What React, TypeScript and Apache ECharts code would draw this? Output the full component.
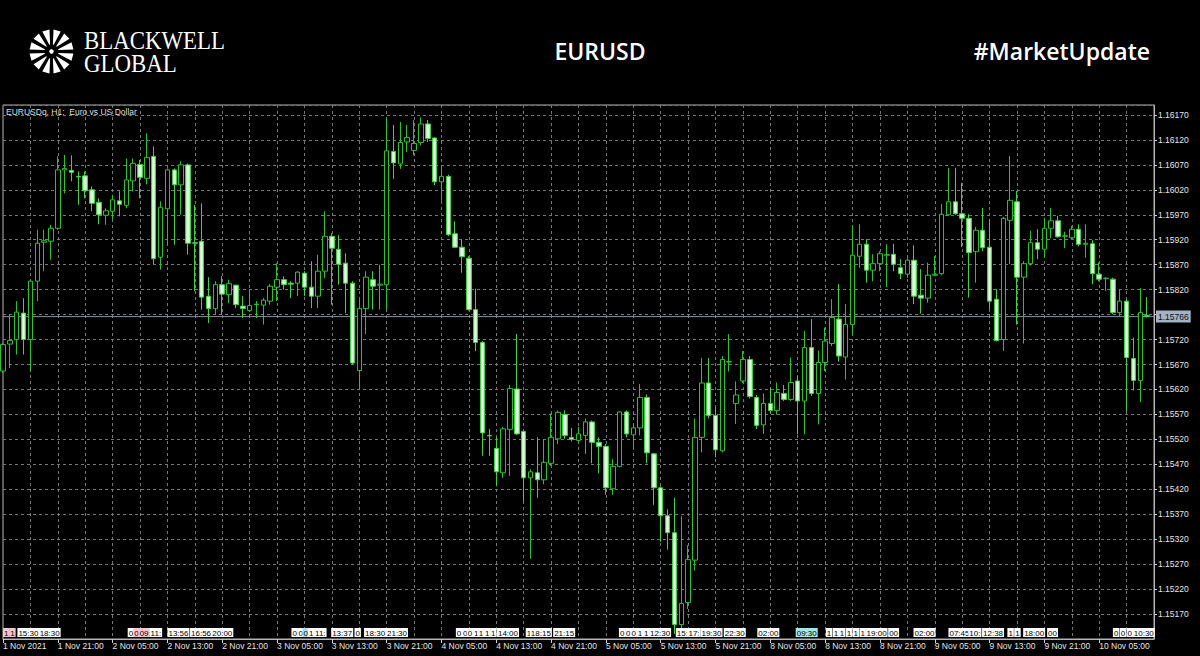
import React, { useEffect, useRef } from 'react';
import * as echarts from 'echarts';

// ---- Data ----
const sessions = [
  { day: '1 Nov', from: 13, to: 23 },
  { day: '2 Nov', from: 0, to: 23 },
  { day: '3 Nov', from: 0, to: 23 },
  { day: '4 Nov', from: 0, to: 23 },
  { day: '5 Nov', from: 0, to: 23 },
  { day: '8 Nov', from: 0, to: 23 },
  { day: '9 Nov', from: 0, to: 23 },
  { day: '10 Nov', from: 0, to: 13 },
];
const firstLabel = '1 Nov 2021';

const opens = [
  1.15657,1.15711,1.15720,1.15773,1.15720,1.15837,1.15915,1.15917,1.15943,1.16060,
  1.16059,1.16047,1.16048,1.16020,1.15995,1.15969,1.15977,1.15998,1.15989,1.16038,
  1.16071,1.16043,1.16087,1.15885,1.15982,1.16060,1.16030,1.16070,1.15914,1.15917,
  1.15807,1.15782,1.15830,1.15810,1.15829,1.15787,1.15778,1.15790,1.15789,1.15797,
  1.15825,1.15840,1.15833,1.15833,1.15853,1.15825,1.15807,1.15857,1.15927,1.15901,
  1.15873,1.15833,1.15658,1.15782,1.15840,1.15829,1.15830,1.16097,1.16072,1.16116,
  1.16099,1.16115,1.16152,1.16124,1.16036,1.16047,1.15932,1.15905,1.15883,1.15780,
  1.15714,1.15528,1.15502,1.15453,1.15540,1.15621,1.15536,1.15443,1.15453,1.15439,
  1.15472,1.15521,1.15570,1.15524,1.15518,1.15528,1.15555,1.15514,1.15506,1.15421,
  1.15466,1.15575,1.15529,1.15543,1.15604,1.15491,1.15423,1.15367,1.15333,1.15149,
  1.15193,1.15278,1.15524,1.15633,1.15568,1.15497,1.15675,1.15592,1.15637,1.15680,
  1.15604,1.15549,1.15592,1.15578,1.15612,1.15600,1.15637,1.15597,1.15704,1.15612,
  1.15674,1.15712,1.15761,1.15685,1.15750,1.15887,1.15911,1.15859,1.15872,1.15889,
  1.15891,1.15864,1.15851,1.15879,1.15809,1.15803,1.15849,1.15852,1.15970,1.15996,
  1.15972,1.15963,1.15896,1.15939,1.15905,1.15801,1.15720,1.15959,1.15996,1.15845,
  1.15872,1.15914,1.15901,1.15943,1.15958,1.15927,1.15924,1.15941,1.15911,1.15912,
  1.15851,1.15842,1.15841,1.15774,1.15797,1.15682,1.15638,1.15768,
];
const closes = [
  1.15710,1.15718,1.15775,1.15720,1.15837,1.15913,1.15918,1.15943,1.16060,1.16063,
  1.16055,1.16046,1.16018,1.15993,1.15970,1.15978,1.16000,1.15991,1.16040,1.16073,
  1.16045,1.16085,1.15882,1.15985,1.16060,1.16030,1.16070,1.15913,1.15913,1.15805,
  1.15782,1.15830,1.15811,1.15832,1.15790,1.15782,1.15788,1.15791,1.15799,1.15827,
  1.15840,1.15830,1.15831,1.15855,1.15825,1.15807,1.15857,1.15927,1.15903,1.15871,
  1.15833,1.15673,1.15782,1.15845,1.15827,1.15831,1.16098,1.16074,1.16115,1.16125,
  1.16113,1.16152,1.16123,1.16036,1.16047,1.15930,1.15905,1.15886,1.15780,1.15714,
  1.15533,1.15527,1.15455,1.15541,1.15622,1.15531,1.15443,1.15455,1.15439,1.15474,
  1.15524,1.15574,1.15528,1.15520,1.15531,1.15555,1.15514,1.15506,1.15423,1.15466,
  1.15575,1.15531,1.15543,1.15604,1.15493,1.15423,1.15367,1.15333,1.15149,1.15191,
  1.15279,1.15524,1.15633,1.15568,1.15499,1.15680,1.15676,1.15609,1.15680,1.15606,
  1.15548,1.15592,1.15578,1.15614,1.15600,1.15634,1.15597,1.15704,1.15612,1.15674,
  1.15717,1.15764,1.15687,1.15750,1.15889,1.15911,1.15859,1.15872,1.15892,1.15890,
  1.15871,1.15852,1.15879,1.15807,1.15803,1.15849,1.15851,1.15971,1.15996,1.15972,
  1.15963,1.15894,1.15939,1.15904,1.15797,1.15718,1.15963,1.15999,1.15845,1.15872,
  1.15914,1.15901,1.15943,1.15958,1.15926,1.15928,1.15941,1.15911,1.15913,1.15852,
  1.15841,1.15843,1.15774,1.15797,1.15684,1.15638,1.15774,1.15766,
];
const lows = [
  1.15653,1.15663,1.15690,1.15690,1.15657,1.15797,1.15857,1.15880,1.15940,1.16013,
  1.16037,1.15990,1.16003,1.15977,1.15951,1.15950,1.15960,1.15967,1.15983,1.16017,
  1.16003,1.16031,1.15871,1.15860,1.15910,1.15910,1.15970,1.15890,1.15817,1.15780,
  1.15753,1.15770,1.15770,1.15793,1.15783,1.15763,1.15777,1.15763,1.15750,1.15790,
  1.15797,1.15820,1.15803,1.15807,1.15807,1.15783,1.15783,1.15843,1.15790,1.15830,
  1.15773,1.15670,1.15620,1.15731,1.15780,1.15780,1.15780,1.16042,1.16062,1.16096,
  1.16089,1.16109,1.16116,1.16029,1.15998,1.15927,1.15903,1.15854,1.15778,1.15697,
  1.15487,1.15487,1.15426,1.15443,1.15447,1.15529,1.15396,1.15281,1.15403,1.15430,
  1.15467,1.15511,1.15521,1.15516,1.15514,1.15491,1.15472,1.15452,1.15409,1.15409,
  1.15464,1.15524,1.15502,1.15528,1.15472,1.15389,1.15315,1.15299,1.15130,1.15132,
  1.15180,1.15257,1.15494,1.15562,1.15484,1.15494,1.15656,1.15551,1.15633,1.15602,
  1.15541,1.15531,1.15572,1.15570,1.15597,1.15597,1.15530,1.15530,1.15607,1.15550,
  1.15657,1.15707,1.15676,1.15640,1.15730,1.15864,1.15834,1.15837,1.15857,1.15825,
  1.15857,1.15841,1.15844,1.15791,1.15772,1.15794,1.15847,1.15849,1.15968,1.15970,
  1.15905,1.15804,1.15834,1.15897,1.15781,1.15716,1.15697,1.15871,1.15750,1.15712,
  1.15868,1.15881,1.15884,1.15923,1.15924,1.15903,1.15921,1.15907,1.15884,1.15831,
  1.15837,1.15817,1.15771,1.15767,1.15577,1.15618,1.15595,1.15764,
];
const highs = [
  1.15713,1.15770,1.15797,1.15803,1.15838,1.15940,1.15940,1.15950,1.16087,1.16090,
  1.16089,1.16057,1.16057,1.16027,1.16003,1.15983,1.16010,1.16017,1.16083,1.16083,
  1.16080,1.16133,1.16107,1.15997,1.16063,1.16063,1.16077,1.16073,1.15990,1.15993,
  1.15845,1.15837,1.15847,1.15840,1.15830,1.15807,1.15820,1.15797,1.15803,1.15831,
  1.15873,1.15847,1.15837,1.15857,1.15857,1.15877,1.15890,1.15977,1.15933,1.15929,
  1.15893,1.15837,1.15800,1.15857,1.15857,1.15870,1.16164,1.16150,1.16156,1.16150,
  1.16160,1.16165,1.16160,1.16125,1.16069,1.16050,1.15957,1.15920,1.15887,1.15822,
  1.15717,1.15541,1.15524,1.15545,1.15629,1.15731,1.15538,1.15460,1.15524,1.15521,
  1.15572,1.15578,1.15578,1.15543,1.15545,1.15562,1.15558,1.15524,1.15511,1.15480,
  1.15576,1.15578,1.15551,1.15631,1.15610,1.15493,1.15426,1.15380,1.15403,1.15366,
  1.15308,1.15562,1.15683,1.15683,1.15585,1.15687,1.15731,1.15636,1.15697,1.15687,
  1.15609,1.15612,1.15622,1.15634,1.15629,1.15684,1.15647,1.15737,1.15761,1.15698,
  1.15744,1.15801,1.15831,1.15791,1.15948,1.15951,1.15921,1.15891,1.15897,1.15911,
  1.15912,1.15881,1.15883,1.15909,1.15861,1.15874,1.15887,1.15992,1.16064,1.16064,
  1.16034,1.15971,1.15946,1.15984,1.15961,1.15821,1.15966,1.16088,1.16018,1.15877,
  1.15938,1.15941,1.15964,1.15984,1.15968,1.15936,1.15948,1.15951,1.15951,1.15919,
  1.15874,1.15845,1.15844,1.15821,1.15801,1.15724,1.15823,1.15805,
];

// y-axis tick range
const yMin = 1.1512;
const yMax = 1.1619;
const yStep = 0.0005;

// calendar event markers (bar position, text, kind)
const eventPos = [
  0, 0.9, 2.1, 5.2,
  18.2, 19, 19.8, 21.4, 24, 27.3, 30.4,
  42.1, 43, 43.7, 44.5, 45.4, 47.9, 51.3, 52.7, 55.9,
  66.1, 67, 67.7, 68.6, 69.3, 70.2, 71.1, 72.1, 76.3, 76.9, 80.3,
  89.9, 90.8, 91.6, 92.5, 93.4, 94.3, 98.2, 99.9, 101.8, 105.2, 110.1,
  115.7, 120.1, 121.1, 122, 123, 124, 125, 125.9, 129.2, 132.9,
  138, 140.9, 142.9, 146.6, 147.6, 148.9, 152.4,
  162, 163, 164, 164.9,
];
const eventText = [
  '1', '1', '15:30', '18:30',
  '0', '0', '09:', '11:', '13:56', '16:56', '20:00',
  '0', '0', '0', '1', '11:', '13:37', '0', '18:30', '21:30',
  '0', '0', '0', '1', '1', '1', '1', '14:00', '1', '18:15', '21:15',
  '0', '0', '0', '1', '1', '12:30', '15:', '17:', '19:30', '22:30', '02:00',
  '09:30', '1', '1', '1', '1', '1', '1', '19:00', '00', '02:00',
  '07:45', '10:', '12:38', '1', '1', '18:00', '00',
  '0', '0', '0', '10:30',
];
const eventKind = [
  'p', 'p', 'w', 'w',
  'w', 'p', 'p', 'w', 'w', 'w', 'w',
  'w', 'w', 'c', 'w', 'w', 'w', 'w', 'w', 'w',
  'w', 'w', 'w', 'w', 'w', 'w', 'w', 'w', 'w', 'w', 'w',
  'w', 'w', 'w', 'w', 'w', 'w', 'w', 'w', 'w', 'w', 'w',
  'c', 'w', 'w', 'w', 'w', 'w', 'w', 'w', 'w', 'w',
  'w', 'w', 'w', 'w', 'w', 'w', 'w',
  'w', 'w', 'w', 'w',
];

const categories: string[] = [];
sessions.forEach((s) => {
  for (let h = s.from; h <= s.to; h++) {
    categories.push(`${s.day} ${String(h).padStart(2, '0')}:00`);
  }
});

const lastClose = closes[closes.length - 1];

function logoPolygons(cx: number, cy: number) {
  const items: any[] = [];
  const n = 12;
  const r1 = 7;
  const r2 = 22;
  for (let k = 0; k < n; k++) {
    const a = (k * 2 * Math.PI) / n + Math.PI / 12;
    const wIn = 0.06;
    const wOut = 0.17;
    const pts = [
      [cx + r1 * Math.cos(a - wIn), cy + r1 * Math.sin(a - wIn)],
      [cx + r2 * Math.cos(a - wOut), cy + r2 * Math.sin(a - wOut)],
      [cx + r2 * Math.cos(a + wOut), cy + r2 * Math.sin(a + wOut)],
      [cx + r1 * Math.cos(a + wIn), cy + r1 * Math.sin(a + wIn)],
    ];
    items.push({ type: 'polygon', shape: { points: pts }, style: { fill: '#ffffff' }, silent: true });
  }
  items.push({ type: 'circle', shape: { cx, cy, r: 2.2 }, style: { fill: '#ffffff' }, silent: true });
  return items;
}

export default function App() {
  const ref = useRef<HTMLDivElement>(null);

  useEffect(() => {
    if (!ref.current) return;
    const chart = echarts.init(ref.current, undefined, { renderer: 'svg' });

    const candleData = opens.map((o, i) => [o, closes[i], lows[i], highs[i]]);
    const bearFill = new echarts.graphic.LinearGradient(0, 0, 1, 0, [
      { offset: 0, color: '#8fe88f' },
      { offset: 0.5, color: '#f2fff0' },
      { offset: 1, color: '#8fe88f' },
    ]);

    const axisFont = 'Liberation Sans';
    const gridColor = '#777777';
    const lastIndex = categories.length - 1;

    chart.setOption({
      animation: false,
      backgroundColor: '#000000',
      grid: {
        left: 1.4,
        top: 105,
        width: 1152.6,
        height: 534,
        show: true,
        borderColor: '#b5b5b5',
        borderWidth: 1,
        backgroundColor: 'transparent',
      },
      xAxis: {
        type: 'category',
        data: categories,
        boundaryGap: false,
        axisLine: { show: true, lineStyle: { color: '#b5b5b5' } },
        axisTick: {
          show: true,
          length: 4,
          interval: (i: number) => i % 8 === 0 && i <= 160,
          lineStyle: { color: '#d0d0d0' },
        },
        axisLabel: {
          show: true,
          interval: (i: number) => i % 8 === 0 && i <= 160,
          formatter: (v: string, i: number) => (i === 0 ? firstLabel : v),
          color: '#e6e6e6',
          fontSize: 8.5,
          fontFamily: axisFont,
          align: 'left',
          margin: 2,
        },
        splitLine: {
          show: true,
          interval: (i: number) => i % 4 === 0 && i > 0 && i < 168,
          lineStyle: { color: gridColor, type: [3, 3], width: 1 },
        },
      },
      yAxis: {
        type: 'value',
        position: 'right',
        min: yMin,
        max: yMax,
        interval: yStep,
        axisLine: { show: true, lineStyle: { color: '#b5b5b5' } },
        axisTick: { show: true, length: 3, lineStyle: { color: '#d0d0d0' } },
        axisLabel: {
          color: '#e6e6e6',
          fontSize: 8.5,
          fontFamily: axisFont,
          margin: 4,
          showMinLabel: false,
          showMaxLabel: false,
          formatter: (v: number) => v.toFixed(5),
        },
        splitLine: { show: true, lineStyle: { color: gridColor, type: [3, 3], width: 1 } },
      },
      series: [
        {
          type: 'custom',
          coordinateSystem: 'cartesian2d',
          silent: true,
          clip: false,
          z: 2,
          data: [[0, lastClose]],
          renderItem: (params: any, api: any) => {
            const a = api.coord([0, lastClose]);
            const b = api.coord([lastIndex, lastClose]);
            return {
              type: 'group',
              children: [
                {
                  type: 'line',
                  shape: { x1: a[0], y1: a[1], x2: b[0], y2: b[1] },
                  style: { stroke: '#8294a8', lineWidth: 1 },
                },
                {
                  type: 'text',
                  x: b[0] + 2,
                  y: b[1],
                  style: {
                    text: lastClose.toFixed(5),
                    fill: '#111111',
                    fontSize: 8.5,
                    fontFamily: axisFont,
                    align: 'left',
                    verticalAlign: 'middle',
                    backgroundColor: '#a3b2c4',
                    padding: [2, 2, 1, 2],
                  },
                },
              ],
            };
          },
        },
        {
          type: 'candlestick',
          data: candleData,
          barWidth: 5,
          clip: true,
          itemStyle: {
            color: '#000000',
            color0: bearFill,
            borderColor: '#2fbf2f',
            borderColor0: '#45cf45',
            borderWidth: 1,
          },
          z: 3,
        },
        {
          type: 'custom',
          coordinateSystem: 'cartesian2d',
          silent: true,
          clip: false,
          z: 6,
          data: eventPos.map((p) => [Math.floor(p), yMin]),
          renderItem: (params: any, api: any) => {
            const idx = params.dataIndex;
            const p = eventPos[idx];
            const i0 = Math.floor(p);
            const f = p - i0;
            const a = api.coord([i0, yMin]);
            const b = api.coord([i0 + 1, yMin]);
            const x = a[0] + f * (b[0] - a[0]);
            const kind = eventKind[idx];
            const bg = kind === 'p' ? '#f6c9cf' : kind === 'c' ? '#a9e3ea' : '#ffffff';
            return {
              type: 'text',
              x,
              y: a[1] - 2,
              style: {
                text: eventText[idx],
                fill: '#000000',
                fontSize: 8,
                fontFamily: axisFont,
                align: 'left',
                verticalAlign: 'bottom',
                backgroundColor: bg,
                padding: [1, 1, 0, 1],
              },
            };
          },
        },
      ],
      graphic: [
        ...logoPolygons(51.5, 51.5),
        {
          type: 'text',
          x: 84,
          y: 40,
          scaleX: 0.88,
          silent: true,
          style: {
            text: 'BLACKWELL',
            fill: '#ffffff',
            fontSize: 26,
            fontFamily: 'Liberation Serif',
            align: 'left',
            verticalAlign: 'middle',
          },
        },
        {
          type: 'text',
          x: 84,
          y: 63,
          scaleX: 0.88,
          silent: true,
          style: {
            text: 'GLOBAL',
            fill: '#ffffff',
            fontSize: 26,
            fontFamily: 'Liberation Serif',
            align: 'left',
            verticalAlign: 'middle',
          },
        },
        {
          type: 'text',
          x: 600,
          y: 51,
          silent: true,
          style: {
            text: 'EURUSD',
            fill: '#ffffff',
            fontSize: 23,
            fontWeight: 600,
            fontFamily: 'Open Sans',
            align: 'center',
            verticalAlign: 'middle',
          },
        },
        {
          type: 'text',
          x: 1150,
          y: 51,
          silent: true,
          style: {
            text: '#MarketUpdate',
            fill: '#ffffff',
            fontSize: 23,
            fontWeight: 600,
            fontFamily: 'Open Sans',
            align: 'right',
            verticalAlign: 'middle',
          },
        },
        {
          type: 'text',
          x: 6,
          y: 112,
          silent: true,
          style: {
            text: 'EURUSDq, H1:  Euro vs US Dollar',
            fill: '#dddddd',
            fontSize: 8.5,
            fontFamily: axisFont,
            align: 'left',
            verticalAlign: 'middle',
          },
        },
      ],
    });

    return () => {
      chart.dispose();
    };
  }, []);

  return (
    <div
      ref={ref}
      style={{ position: 'fixed', left: 0, top: 0, width: 1200, height: 656, background: '#000' }}
    />
  );
}
